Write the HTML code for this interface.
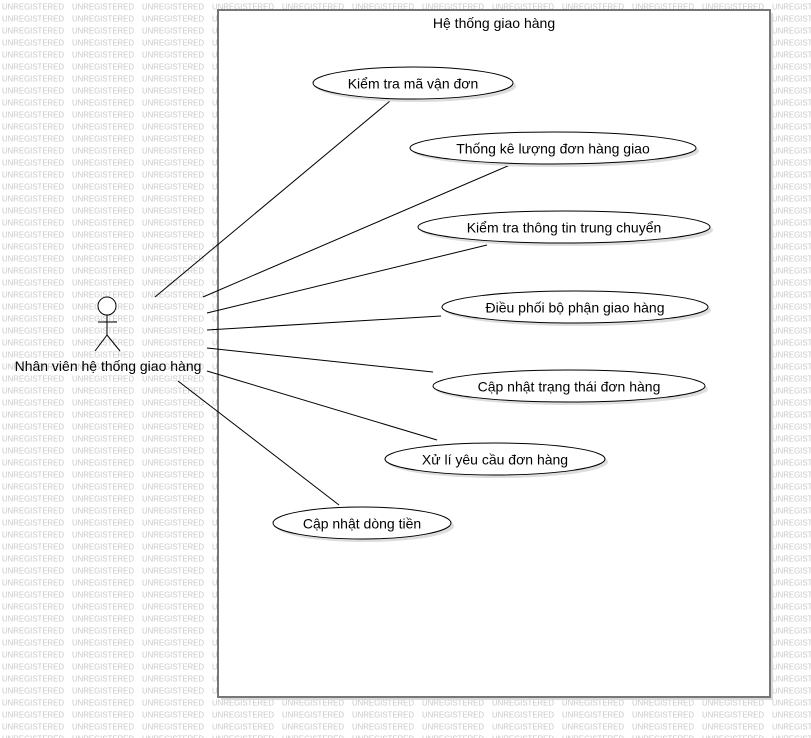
<!DOCTYPE html>
<html><head><meta charset="utf-8"><style>
html,body{margin:0;padding:0;background:#fff;}
svg{display:block;}
text{font-family:"Liberation Sans","DejaVu Sans",sans-serif;}
</style></head><body>
<svg width="811" height="738" viewBox="0 0 811 738" xmlns="http://www.w3.org/2000/svg">
<defs>
<pattern id="wm" x="0" y="0" width="70" height="12" patternUnits="userSpaceOnUse">
<text x="2" y="9.5" font-size="8.5" fill="#c8c8c8" textLength="62" lengthAdjust="spacingAndGlyphs">UNREGISTERED</text>
</pattern>
</defs>
<rect width="811" height="738" fill="url(#wm)"/>
<rect x="221" y="13" width="552" height="687" fill="#d8d8d8"/>
<rect x="218" y="10" width="552" height="687" fill="#fff" stroke="#777" stroke-width="2"/>
<text x="494" y="28" font-size="14" text-anchor="middle" fill="#000">Hệ thống giao hàng</text>
<g stroke="#000" stroke-width="1" fill="none">
<line x1="155" y1="297" x2="390" y2="101"/>
<line x1="203" y1="297" x2="510" y2="165"/>
<line x1="207" y1="313" x2="487" y2="245"/>
<line x1="207" y1="330" x2="441" y2="316"/>
<line x1="207" y1="348" x2="433" y2="372"/>
<line x1="207" y1="371" x2="437" y2="440"/>
<line x1="178" y1="381" x2="339" y2="505"/>
</g>
<g fill="#ddd">
<ellipse cx="416" cy="86" rx="100" ry="16"/>
<ellipse cx="556" cy="151" rx="143" ry="16"/>
<ellipse cx="567" cy="230" rx="146" ry="16"/>
<ellipse cx="578" cy="310" rx="133" ry="16"/>
<ellipse cx="572" cy="389" rx="136" ry="16"/>
<ellipse cx="498" cy="462" rx="110" ry="16"/>
<ellipse cx="365" cy="526" rx="89" ry="16"/>
</g>
<g fill="#fff" stroke="#000" stroke-width="1">
<ellipse cx="413" cy="83" rx="100" ry="16"/>
<ellipse cx="553" cy="148" rx="143" ry="16"/>
<ellipse cx="564" cy="227" rx="146" ry="16"/>
<ellipse cx="575" cy="307" rx="133" ry="16"/>
<ellipse cx="569" cy="386" rx="136" ry="16"/>
<ellipse cx="495" cy="459" rx="110" ry="16"/>
<ellipse cx="362" cy="523" rx="89" ry="16"/>
</g>
<g font-size="14" text-anchor="middle" fill="#000">
<text x="413" y="88.5">Kiểm tra mã vận đơn</text>
<text x="553" y="153.5">Thống kê lượng đơn hàng giao</text>
<text x="564" y="232.5">Kiểm tra thông tin trung chuyển</text>
<text x="575" y="312.5">Điều phối bộ phận giao hàng</text>
<text x="569" y="391.5">Cập nhật trạng thái đơn hàng</text>
<text x="495" y="464.5">Xử lí yêu cầu đơn hàng</text>
<text x="362" y="528.5">Cập nhật dòng tiền</text>
</g>
<g stroke="#000" stroke-width="1" fill="none">
<circle cx="107" cy="306" r="9" fill="#fff"/>
<line x1="107" y1="315" x2="107" y2="335"/>
<line x1="98" y1="322" x2="117" y2="322"/>
<line x1="107" y1="335" x2="95" y2="351"/>
<line x1="107" y1="335" x2="120" y2="351"/>
</g>
<text x="108" y="371" font-size="14" text-anchor="middle" fill="#000">Nhân viên hệ thống giao hàng</text>
</svg>
</body></html>
